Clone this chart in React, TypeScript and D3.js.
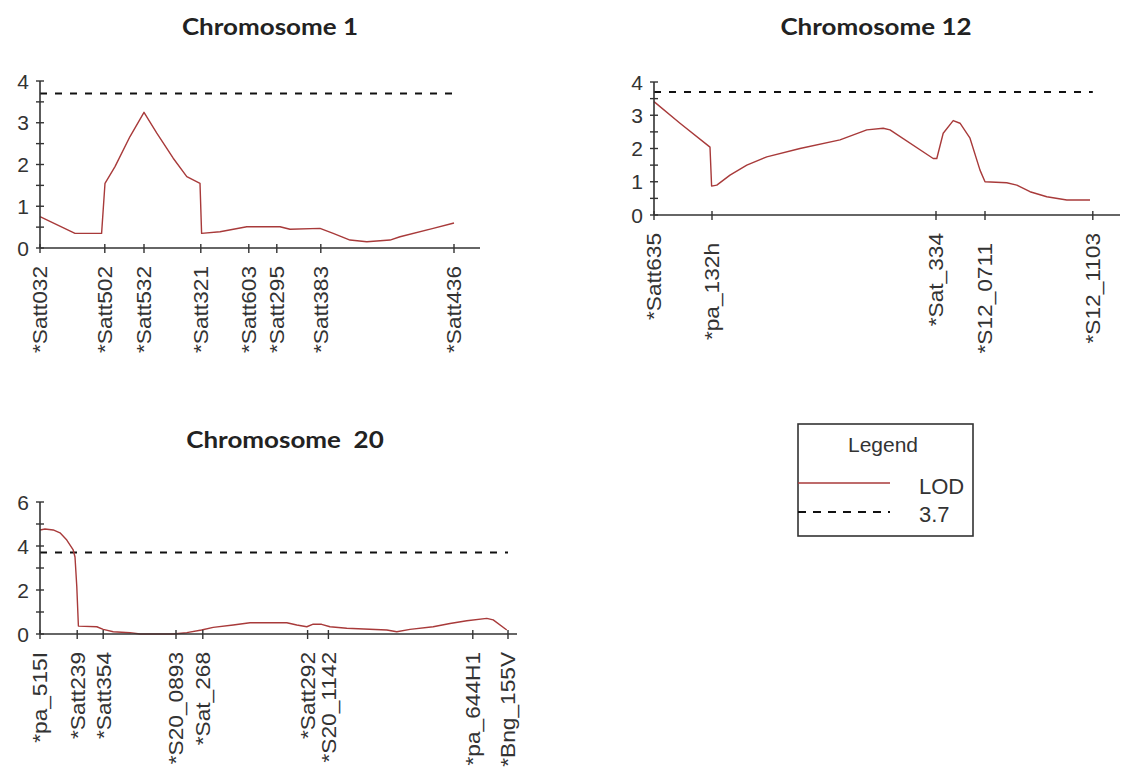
import React from "react";
import * as d3 from "d3";

// ---------- Chromosome 1 ----------
const chr1Markers = ["*Satt032", "*Satt502", "*Satt532", "*Satt321", "*Satt603", "*Satt295", "*Satt383", "*Satt436"];
const chr1MarkerPos = [0, 16.2, 26.0, 40.2, 52.2, 59.2, 70.2, 103.5];
const chr1Pos = [0, 8.75, 15.4, 16.25, 18.75, 22.5, 26, 29.2, 33.3, 36.7, 40, 40.4, 45, 51.7, 60, 62.5, 70, 73.3, 77.5, 81.7, 87.5, 90, 98.3, 103.5];
const chr1Lod = [0.75, 0.35, 0.35, 1.55, 1.95, 2.67, 3.25, 2.75, 2.15, 1.71, 1.55, 0.35, 0.39, 0.51, 0.51, 0.45, 0.47, 0.35, 0.19, 0.15, 0.19, 0.27, 0.47, 0.6];

// ---------- Chromosome 12 ----------
const chr12Markers = ["*Satt635", "*pa_132h", "*Sat_334", "*S12_0711", "*S12_1103"];
const chr12MarkerPos = [0, 14.5, 70.5, 82.75, 109.7];
const chr12Pos = [0, 6.5, 14, 14.4, 15.7, 19, 23.2, 28.2, 36.5, 46.5, 53.2, 57.3, 59, 69.8, 70.7, 72.3, 74.8, 76.5, 79, 81.5, 82.75, 88.2, 90.7, 94, 98.2, 103.2, 109];
const chr12Lod = [3.41, 2.76, 2.04, 0.87, 0.9, 1.2, 1.5, 1.75, 2.0, 2.26, 2.56, 2.61, 2.56, 1.7, 1.7, 2.46, 2.84, 2.76, 2.31, 1.35, 1.0, 0.97, 0.9, 0.7, 0.55, 0.45, 0.45];

// ---------- Chromosome 20 ----------
const chr20Markers = ["*pa_515I", "*Satt239", "*Satt354", "*S20_0893", "*Sat_268", "*Satt292", "*S20_1142", "*pa_644H1", "*Bng_155V"];
const chr20MarkerPos = [0, 9.3, 15.8, 34, 40.7, 66.9, 72.1, 108.2, 117];
const chr20Pos = [0, 1.25, 3.3, 5, 6.7, 8.3, 8.75, 9.2, 9.6, 14.2, 15.8, 18.3, 22.5, 25, 33.3, 36.7, 40.4, 43.3, 48.3, 52.5, 61.7, 64.2, 66.7, 68.3, 70.4, 72.5, 76.7, 86.7, 89.2, 92.5, 98.3, 102.5, 106.7, 111.7, 113.3, 116.7];
const chr20Lod = [4.73, 4.77, 4.73, 4.6, 4.27, 3.82, 3.5, 2.15, 0.36, 0.33, 0.21, 0.1, 0.06, 0, 0, 0.06, 0.18, 0.3, 0.41, 0.51, 0.51, 0.41, 0.33, 0.45, 0.44, 0.33, 0.26, 0.18, 0.1, 0.21, 0.33, 0.48, 0.6, 0.71, 0.64, 0.18];

const threshold = 3.7;
const legendLabels = ["LOD", "3.7"];

const LINE_COLOR = "#a83a3a";
const AXIS_COLOR = "#333";
const TEXT_COLOR = "#333";
const LABEL_FONT = "'Liberation Sans', Arial, sans-serif";
const TITLE_FONT = "Lato, 'Open Sans', sans-serif";

type PanelProps = {
  title: string;
  titleX: number;
  titleY: number;
  markers: string[];
  markerPos: number[];
  pos: number[];
  lod: number[];
  xDomainMax: number;
  x0: number;
  x1: number;
  yBase: number;
  yTop: number;
  yMax: number;
  minorStep: number;
  labelStep: number;
  stagger: number;
};

function Panel(p: PanelProps) {
  const x = d3.scaleLinear().domain([0, p.xDomainMax]).range([p.x0, p.x1]);
  const y = d3.scaleLinear().domain([0, p.yMax]).range([p.yBase, p.yTop]);
  const line = d3
    .line<number>()
    .x((_, i) => x(p.pos[i]))
    .y((d) => y(d));
  const minorTicks = d3.range(0, p.yMax + 1e-9, p.minorStep);
  const labelTicks = d3.range(0, p.yMax + 1e-9, p.labelStep);
  const firstM = p.markerPos[0];
  const lastM = p.markerPos[p.markerPos.length - 1];
  return (
    <g>
      <text
        transform={`translate(${p.titleX},${p.titleY}) scale(1.13,1)`}
        textAnchor="middle"
        fontFamily={TITLE_FONT}
        fontWeight="bold"
        fontSize={23}
        fill="#222"
        style={{ whiteSpace: "pre" }}
      >
        {p.title}
      </text>
      {/* threshold */}
      <line
        x1={x(firstM)}
        x2={x(lastM)}
        y1={y(threshold)}
        y2={y(threshold)}
        stroke="#111"
        strokeWidth={2}
        strokeDasharray="7,8"
      />
      {/* LOD curve */}
      <path d={line(p.lod) || ""} fill="none" stroke={LINE_COLOR} strokeWidth={1.4} strokeLinejoin="round" />
      {/* y axis */}
      <line x1={p.x0} x2={p.x0} y1={y(0)} y2={y(p.yMax)} stroke={AXIS_COLOR} strokeWidth={1.6} />
      {minorTicks.map((t, i) => (
        <line key={"mt" + i} x1={p.x0 - 4} x2={p.x0 + 4} y1={y(t)} y2={y(t)} stroke={AXIS_COLOR} strokeWidth={1.4} />
      ))}
      {labelTicks.map((t, i) => (
        <text
          key={"yl" + i}
          x={p.x0 - 11}
          y={y(t)}
          dy="0.36em"
          textAnchor="end"
          fontFamily={LABEL_FONT}
          fontSize={21}
          fill={TEXT_COLOR}
        >
          {t}
        </text>
      ))}
      {/* x axis */}
      <line x1={p.x0} x2={p.x1} y1={y(0)} y2={y(0)} stroke={AXIS_COLOR} strokeWidth={1.6} />
      {p.markerPos.map((m, i) => (
        <line key={"xt" + i} x1={x(m)} x2={x(m)} y1={y(0) - 4} y2={y(0) + 5} stroke={AXIS_COLOR} strokeWidth={1.4} />
      ))}
      {p.markers.map((name, i) => (
        <text
          key={"xl" + i}
          transform={`translate(${x(p.markerPos[i])},${y(0) + 18 + (i % 2) * p.stagger}) rotate(-90) scale(1.08,1)`}
          dy="0.35em"
          textAnchor="end"
          fontFamily={LABEL_FONT}
          fontSize={21}
          fill={TEXT_COLOR}
        >
          {name}
        </text>
      ))}
    </g>
  );
}

function Legend() {
  const left = 798;
  const right = 973;
  const top = 424;
  const bottom = 536;
  return (
    <g>
      <rect x={left} y={top} width={right - left} height={bottom - top} fill="none" stroke="#333" strokeWidth={1.6} />
      <text x={883} y={452} textAnchor="middle" fontFamily={LABEL_FONT} fontSize={21} fill={TEXT_COLOR}>
        Legend
      </text>
      <line x1={left} x2={890} y1={483} y2={483} stroke={LINE_COLOR} strokeWidth={1.4} />
      <text x={919} y={486} dy="0.36em" fontFamily={LABEL_FONT} fontSize={22} fill={TEXT_COLOR}>
        {legendLabels[0]}
      </text>
      <line x1={left} x2={890} y1={512} y2={512} stroke="#111" strokeWidth={2} strokeDasharray="8,7" />
      <text x={919} y={514} dy="0.36em" fontFamily={LABEL_FONT} fontSize={22} fill={TEXT_COLOR}>
        {legendLabels[1]}
      </text>
    </g>
  );
}

export default function App() {
  return (
    <svg
      width={1125}
      height={781}
      style={{ position: "absolute", left: 0, top: 0, background: "#fff" }}
    >
      <rect x={0} y={0} width={1125} height={781} fill="#fff" />
      <Panel
        title="Chromosome 1"
        titleX={270}
        titleY={35}
        markers={chr1Markers}
        markerPos={chr1MarkerPos}
        pos={chr1Pos}
        lod={chr1Lod}
        xDomainMax={110}
        x0={40}
        x1={480}
        yBase={248}
        yTop={81}
        yMax={4}
        minorStep={0.5}
        labelStep={1}
        stagger={0}
      />
      <Panel
        title="Chromosome 12"
        titleX={876}
        titleY={35}
        markers={chr12Markers}
        markerPos={chr12MarkerPos}
        pos={chr12Pos}
        lod={chr12Lod}
        xDomainMax={116.5}
        x0={654}
        x1={1120}
        yBase={215}
        yTop={82}
        yMax={4}
        minorStep={0.5}
        labelStep={1}
        stagger={10}
      />
      <Panel
        title={"Chromosome  20"}
        titleX={285}
        titleY={448}
        markers={chr20Markers}
        markerPos={chr20MarkerPos}
        pos={chr20Pos}
        lod={chr20Lod}
        xDomainMax={119.25}
        x0={40}
        x1={517}
        yBase={634}
        yTop={502}
        yMax={6}
        minorStep={1}
        labelStep={2}
        stagger={0}
      />
      <Legend />
    </svg>
  );
}
